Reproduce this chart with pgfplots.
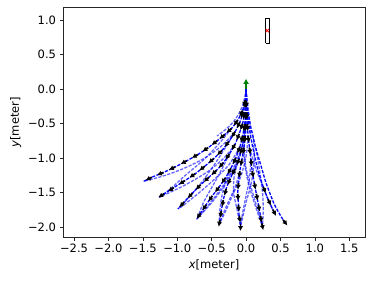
\documentclass[border=0pt]{standalone}
\usepackage{pgfplots}
\pgfplotsset{compat=1.18}
\usepackage{fontspec}
\setmainfont{DejaVu Sans}
\usetikzlibrary{arrows.meta}
\pgfplotsset{
 trail/.style={blue, line width=1.3pt, dash pattern=on 3.2pt off 1.4pt, no marks, smooth},
 light/.style={trail, draw opacity=0.6},
 arr/.style={black, line width=1.8pt, -{Latex[length=4.8pt,width=5.2pt]}, no marks,
   quiver={u={0.1*\thisrow{dx}/sqrt((\thisrow{dx})^2+(\thisrow{dy})^2)},
           v={0.1*\thisrow{dy}/sqrt((\thisrow{dx})^2+(\thisrow{dy})^2)}}},
}
\begin{document}
\begin{tikzpicture}
\begin{axis}[
 scale only axis, width=302pt, height=230pt,
 xmin=-2.66, xmax=1.73, ymin=-2.15, ymax=1.19,
 xtick={-2.5,-2.0,-1.5,-1.0,-0.5,0,0.5,1.0,1.5},
 xticklabels={−2.5,−2.0,−1.5,−1.0,−0.5,0.0,0.5,1.0,1.5},
 ytick={-2,-1.5,-1,-0.5,0,0.5,1},
 yticklabels={−2.0,−1.5,−1.0,−0.5,0.0,0.5,1.0},
 tick pos=left, tick align=outside, major tick length=3.5pt,
 tick label style={font=\fontsize{11.5}{13}\selectfont},
 label style={font=\fontsize{11.5}{13}\selectfont},
 xlabel={\textit{x}[meter]}, ylabel={\textit{y}[meter]},
 axis line style={black!85}, every tick/.style={black!85},
 clip=false,
]
\path (axis cs:-3.576,-2.776) rectangle (axis cs:1.860,1.294);
% light branches
\addplot[light] table[row sep=\\]{x y\\ -0.09 -1.19\\ -0.15 -1.40\\ -0.24 -1.60\\ -0.32 -1.78\\ -0.39 -1.96\\};
\addplot[light] table[row sep=\\]{x y\\ -0.22 -1.15\\ -0.30 -1.35\\ -0.35 -1.55\\ -0.38 -1.75\\ -0.39 -1.96\\};
\addplot[light] table[row sep=\\]{x y\\ -0.10 -1.01\\ -0.17 -1.25\\ -0.18 -1.50\\ -0.13 -1.75\\ -0.08 -2.00\\};
\addplot[light] table[row sep=\\]{x y\\ 0.07 -1.02\\ 0.05 -1.30\\ 0.00 -1.55\\ -0.05 -1.80\\ -0.08 -2.00\\};
\addplot[light] table[row sep=\\]{x y\\ -0.03 -0.85\\ 0.00 -1.15\\ 0.08 -1.45\\ 0.17 -1.75\\ 0.24 -2.00\\};
\addplot[light] table[row sep=\\]{x y\\ 0.14 -0.85\\ 0.20 -1.20\\ 0.24 -1.50\\ 0.25 -1.75\\ 0.24 -2.00\\};
\addplot[light] table[row sep=\\]{x y\\ -0.06 -0.85\\ -0.16 -1.10\\ -0.30 -1.35\\ -0.48 -1.60\\ -0.71 -1.88\\};
\addplot[light] table[row sep=\\]{x y\\ -0.24 -0.94\\ -0.37 -1.20\\ -0.51 -1.45\\ -0.62 -1.65\\ -0.71 -1.88\\};
\addplot[light] table[row sep=\\]{x y\\ -0.09 -0.84\\ -0.25 -1.10\\ -0.45 -1.30\\ -0.70 -1.52\\ -0.98 -1.74\\};
\addplot[light] table[row sep=\\]{x y\\ -0.16 -0.80\\ -0.32 -1.00\\ -0.56 -1.20\\ -0.90 -1.40\\ -1.26 -1.57\\};
\addplot[light] table[row sep=\\]{x y\\ -0.16 -0.62\\ -0.35 -0.82\\ -0.60 -1.00\\ -0.90 -1.15\\ -1.20 -1.26\\ -1.49 -1.34\\};
\addplot[light] table[row sep=\\]{x y\\ -0.21 -0.57\\ -0.40 -0.80\\ -0.62 -1.03\\ -0.88 -1.25\\ -1.10 -1.45\\ -1.26 -1.57\\};
\addplot[light] table[row sep=\\]{x y\\ -0.16 -0.62\\ -0.30 -0.85\\ -0.45 -1.08\\ -0.62 -1.32\\ -0.80 -1.54\\ -0.99 -1.74\\};
\addplot[light] table[row sep=\\]{x y\\ 0 -0.51\\ -0.05 -0.80\\ -0.15 -1.10\\ -0.30 -1.38\\ -0.50 -1.65\\ -0.71 -1.88\\};
\addplot[light] table[row sep=\\]{x y\\ 0.03 -0.68\\ 0 -0.98\\ -0.08 -1.28\\ -0.20 -1.55\\ -0.30 -1.78\\ -0.39 -1.96\\};
\addplot[light] table[row sep=\\]{x y\\ 0.10 -0.68\\ 0.12 -1.00\\ 0.08 -1.35\\ 0 -1.65\\ -0.08 -2.00\\};
\addplot[light] table[row sep=\\]{x y\\ -0.03 -0.68\\ -0.03 -1.00\\ 0.03 -1.35\\ 0.13 -1.68\\ 0.24 -2.00\\};
\addplot[light] table[row sep=\\]{x y\\ 0.05 -0.85\\ 0.14 -1.15\\ 0.24 -1.40\\ 0.32 -1.60\\ 0.39 -1.75\\};
\addplot[light] table[row sep=\\]{x y\\ 0 0\\ -0.03 -0.17\\ -0.09 -0.33\\ -0.18 -0.47\\ -0.29 -0.58\\ -0.42 -0.68\\};
\addplot[light] table[row sep=\\]{x y\\ 0 0\\ 0.02 -0.17\\ 0.04 -0.34\\ 0.06 -0.51\\ 0.07 -0.68\\};
% main paths
\addplot[trail] table[row sep=\\]{x y\\ 0 0\\ -0.01 -0.16\\ -0.05 -0.31\\ -0.12 -0.45\\ -0.21 -0.57\\ -0.31 -0.66\\ -0.42 -0.75\\ -0.55 -0.85\\ -0.70 -0.95\\ -0.86 -1.04\\ -1.03 -1.13\\ -1.20 -1.21\\ -1.37 -1.28\\ -1.49 -1.34\\};
\addplot[trail] table[row sep=\\]{x y\\ 0 0\\ -0.01 -0.17\\ -0.04 -0.33\\ -0.09 -0.48\\ -0.16 -0.62\\ -0.25 -0.76\\ -0.35 -0.89\\ -0.47 -1.01\\ -0.60 -1.12\\ -0.74 -1.23\\ -0.89 -1.33\\ -1.05 -1.43\\ -1.19 -1.52\\ -1.27 -1.57\\};
\addplot[trail] table[row sep=\\]{x y\\ 0 0\\ 0 -0.17\\ -0.02 -0.34\\ -0.05 -0.50\\ -0.10 -0.65\\ -0.16 -0.80\\ -0.24 -0.94\\ -0.33 -1.07\\ -0.43 -1.18\\ -0.54 -1.28\\ -0.66 -1.39\\ -0.78 -1.51\\ -0.90 -1.64\\ -0.99 -1.74\\};
\addplot[trail] table[row sep=\\]{x y\\ 0 0\\ 0 -0.17\\ 0 -0.34\\ -0.02 -0.51\\ -0.05 -0.68\\ -0.09 -0.84\\ -0.15 -1.00\\ -0.22 -1.15\\ -0.30 -1.29\\ -0.39 -1.42\\ -0.49 -1.55\\ -0.58 -1.68\\ -0.66 -1.80\\ -0.72 -1.89\\};
\addplot[trail] table[row sep=\\]{x y\\ 0 0\\ 0 -0.17\\ 0 -0.34\\ -0.01 -0.51\\ -0.03 -0.68\\ -0.06 -0.85\\ -0.10 -1.01\\ -0.16 -1.16\\ -0.23 -1.30\\ -0.29 -1.45\\ -0.33 -1.61\\ -0.36 -1.77\\ -0.38 -1.90\\ -0.39 -1.96\\};
\addplot[trail] table[row sep=\\]{x y\\ 0 0\\ 0 -0.17\\ 0 -0.34\\ 0 -0.51\\ -0.01 -0.68\\ -0.03 -0.85\\ -0.06 -1.02\\ -0.09 -1.19\\ -0.11 -1.36\\ -0.12 -1.52\\ -0.11 -1.68\\ -0.10 -1.84\\ -0.08 -1.96\\ -0.08 -2.01\\};
\addplot[trail] table[row sep=\\]{x y\\ 0 0\\ 0 -0.17\\ 0.01 -0.34\\ 0.02 -0.51\\ 0.03 -0.68\\ 0.05 -0.85\\ 0.07 -1.02\\ 0.09 -1.19\\ 0.12 -1.36\\ 0.15 -1.52\\ 0.18 -1.68\\ 0.21 -1.84\\ 0.23 -1.95\\ 0.24 -2.00\\};
\addplot[trail] table[row sep=\\]{x y\\ 0 0\\ 0.01 -0.17\\ 0.03 -0.34\\ 0.06 -0.51\\ 0.10 -0.68\\ 0.14 -0.85\\ 0.19 -1.02\\ 0.24 -1.19\\ 0.29 -1.36\\ 0.35 -1.52\\ 0.41 -1.67\\ 0.48 -1.80\\ 0.54 -1.90\\ 0.57 -1.94\\};
\addplot[trail] table[row sep=\\]{x y\\ 0 0\\ 0.01 -0.20\\ 0.03 -0.45\\ 0.07 -0.70\\ 0.12 -0.95\\ 0.18 -1.20\\ 0.25 -1.42\\ 0.32 -1.60\\ 0.39 -1.75\\};
% heading arrows
\addplot[arr] table[row sep=\\]{x y dx dy\\
-0.01 -0.16 -0.04 -0.15\\ -0.05 -0.31 -0.07 -0.14\\ -0.12 -0.45 -0.09 -0.12\\ -0.21 -0.57 -0.10 -0.09\\ -0.31 -0.66 -0.11 -0.09\\ -0.42 -0.75 -0.13 -0.10\\ -0.55 -0.85 -0.15 -0.10\\ -0.70 -0.95 -0.16 -0.09\\ -0.86 -1.04 -0.17 -0.09\\ -1.03 -1.13 -0.17 -0.08\\ -1.20 -1.21 -0.17 -0.07\\ -1.37 -1.28 -0.12 -0.06\\};
\addplot[arr] table[row sep=\\]{x y dx dy\\
-0.01 -0.17 -0.03 -0.16\\ -0.04 -0.33 -0.05 -0.15\\ -0.09 -0.48 -0.07 -0.14\\ -0.16 -0.62 -0.09 -0.14\\ -0.25 -0.76 -0.10 -0.13\\ -0.35 -0.89 -0.12 -0.12\\ -0.47 -1.01 -0.13 -0.11\\ -0.60 -1.12 -0.14 -0.11\\ -0.74 -1.23 -0.15 -0.10\\ -0.89 -1.33 -0.16 -0.10\\ -1.05 -1.43 -0.14 -0.09\\ -1.19 -1.52 -0.08 -0.05\\};
\addplot[arr] table[row sep=\\]{x y dx dy\\
0 -0.17 -0.02 -0.17\\ -0.02 -0.34 -0.03 -0.16\\ -0.05 -0.50 -0.05 -0.15\\ -0.10 -0.65 -0.06 -0.15\\ -0.16 -0.80 -0.08 -0.14\\ -0.24 -0.94 -0.09 -0.13\\ -0.33 -1.07 -0.10 -0.11\\ -0.43 -1.18 -0.11 -0.10\\ -0.54 -1.28 -0.12 -0.11\\ -0.66 -1.39 -0.12 -0.12\\ -0.78 -1.51 -0.12 -0.13\\ -0.90 -1.64 -0.09 -0.10\\};
\addplot[arr] table[row sep=\\]{x y dx dy\\
0 -0.17 0 -0.17\\ 0 -0.34 -0.02 -0.17\\ -0.02 -0.51 -0.03 -0.17\\ -0.05 -0.68 -0.04 -0.16\\ -0.09 -0.84 -0.06 -0.16\\ -0.15 -1.00 -0.07 -0.15\\ -0.22 -1.15 -0.08 -0.14\\ -0.30 -1.29 -0.09 -0.13\\ -0.39 -1.42 -0.10 -0.13\\ -0.49 -1.55 -0.09 -0.13\\ -0.58 -1.68 -0.08 -0.12\\ -0.66 -1.80 -0.06 -0.09\\};
\addplot[arr] table[row sep=\\]{x y dx dy\\
0 -0.17 0 -0.17\\ 0 -0.34 -0.01 -0.17\\ -0.01 -0.51 -0.02 -0.17\\ -0.03 -0.68 -0.03 -0.17\\ -0.06 -0.85 -0.04 -0.16\\ -0.10 -1.01 -0.06 -0.15\\ -0.16 -1.16 -0.07 -0.14\\ -0.23 -1.30 -0.06 -0.15\\ -0.29 -1.45 -0.04 -0.16\\ -0.33 -1.61 -0.03 -0.16\\ -0.36 -1.77 -0.02 -0.13\\ -0.38 -1.90 -0.01 -0.06\\};
\addplot[arr] table[row sep=\\]{x y dx dy\\
0 -0.17 0 -0.17\\ 0 -0.34 0 -0.17\\ 0 -0.51 -0.01 -0.17\\ -0.01 -0.68 -0.02 -0.17\\ -0.03 -0.85 -0.03 -0.17\\ -0.06 -1.02 -0.03 -0.17\\ -0.09 -1.19 -0.02 -0.17\\ -0.11 -1.36 -0.01 -0.16\\ -0.12 -1.52 0.01 -0.16\\ -0.11 -1.68 0.01 -0.16\\ -0.10 -1.84 0.02 -0.12\\ -0.08 -1.96 0 -0.05\\};
\addplot[arr] table[row sep=\\]{x y dx dy\\
0 -0.17 0.01 -0.17\\ 0.01 -0.34 0.01 -0.17\\ 0.02 -0.51 0.01 -0.17\\ 0.03 -0.68 0.02 -0.17\\ 0.05 -0.85 0.02 -0.17\\ 0.07 -1.02 0.02 -0.17\\ 0.09 -1.19 0.03 -0.17\\ 0.12 -1.36 0.03 -0.16\\ 0.15 -1.52 0.03 -0.16\\ 0.18 -1.68 0.03 -0.16\\ 0.21 -1.84 0.02 -0.11\\ 0.23 -1.95 0.01 -0.05\\};
\addplot[arr] table[row sep=\\]{x y dx dy\\
0.25 -1.42 0.07 -0.18\\ 0.32 -1.60 0.07 -0.15\\ 0.39 -1.75 0.04 -0.08\\ 0.54 -1.90 0.03 -0.04\\};
% start pose, target
\addplot[green!50!black, line width=1.6pt, -{Latex[length=5pt,width=6pt]}, quiver={u=0,v=0.15}] coordinates {(0,0)};
\addplot[black, line width=0.8pt, no marks] coordinates {(0.285,0.665) (0.34,0.665) (0.34,1.02) (0.285,1.02) (0.285,0.665)};
\addplot[only marks, mark=x, red, mark size=2.5pt, line width=0.8pt] coordinates {(0.31,0.85)};
\end{axis}
\end{tikzpicture}
\end{document}
